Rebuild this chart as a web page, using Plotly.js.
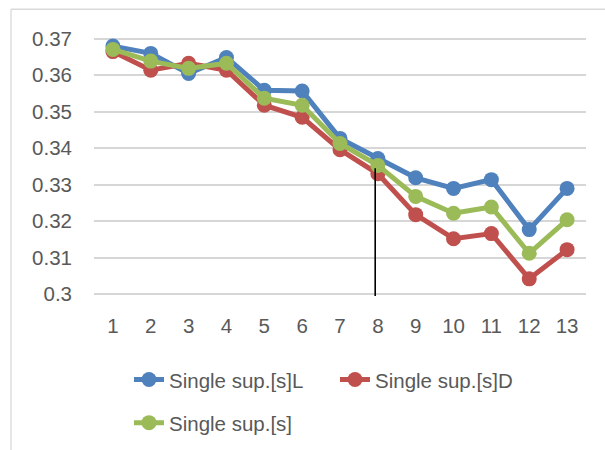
<!DOCTYPE html>
<html>
<head>
<meta charset="utf-8">
<script src="https://cdn.plot.ly/plotly-3.0.1.min.js"></script>
<style>
  html, body { margin: 0; padding: 0; background: #ffffff; }
  #chart { width: 605px; height: 450px; }
</style>
</head>
<body>
<div id="chart"></div>
<script>
// ---- data ----
const categories = [1, 2, 3, 4, 5, 6, 7, 8, 9, 10, 11, 12, 13];
const seriesNames = ["Single sup.[s]L", "Single sup.[s]D", "Single sup.[s]"];
const singleSupL = [0.3680, 0.3660, 0.3605, 0.3649, 0.3559, 0.3557, 0.3427, 0.3372, 0.3319, 0.3290, 0.3314, 0.3177, 0.3290];
const singleSupD = [0.3665, 0.3614, 0.3633, 0.3614, 0.3518, 0.3485, 0.3396, 0.3330, 0.3218, 0.3152, 0.3166, 0.3042, 0.3122];
const singleSup  = [0.3671, 0.3639, 0.3619, 0.3633, 0.3537, 0.3518, 0.3413, 0.3353, 0.3268, 0.3222, 0.3239, 0.3112, 0.3204];
const yTickVals = [0.30, 0.31, 0.32, 0.33, 0.34, 0.35, 0.36, 0.37];
const yTickText = ["0.3", "0.31", "0.32", "0.33", "0.34", "0.35", "0.36", "0.37"];
const markerLineX = 7.93;
const markerLineY = [0.2982, 0.3345];

// ---- style ----
const colors = ["#4F81BD", "#C0504D", "#9BBB59"];
const fontFamily = "Liberation Sans, Arial, sans-serif";
const textColor = "#595959";

function mkTrace(y, i, legendId) {
  return {
    x: categories, y: y, name: seriesNames[i], type: "scatter", mode: "lines+markers",
    line: { color: colors[i], width: 5 },
    marker: { color: colors[i], size: 15 },
    cliponaxis: false,
    legend: legendId
  };
}

const data = [
  mkTrace(singleSupL, 0, "legend"),
  mkTrace(singleSupD, 1, "legend"),
  mkTrace(singleSup, 2, "legend2")
];

// y range padded slightly so the 0.30 and 0.37 gridlines are drawn
const yMin = 0.30, yMax = 0.37, yPad = 0.0005;
const grid37 = 39, grid30 = 293.7;
const pxPerUnit = (grid30 - grid37) / (yMax - yMin);
const plotL = 94, plotR = 586;
const plotT = grid37 - yPad * pxPerUnit, plotB = grid30 + yPad * pxPerUnit;
const pw = plotR - plotL, ph = plotB - plotT;
const px = v => (v - plotL) / pw;
const py = v => (plotB - v) / ph;

const layout = {
  width: 605, height: 450,
  margin: { l: plotL, r: 605 - plotR, t: plotT, b: 450 - plotB, pad: 0, autoexpand: false },
  paper_bgcolor: "#ffffff", plot_bgcolor: "#ffffff",
  font: { family: fontFamily, size: 20.5, color: textColor },
  showlegend: true,
  xaxis: {
    range: [0.5, 13.5], tickmode: "array", tickvals: categories, ticktext: categories.map(String),
    showgrid: false, zeroline: false, showline: false, ticks: "",
    ticklabelstandoff: 15,
    tickfont: { family: fontFamily, size: 20.5, color: textColor }, fixedrange: true
  },
  yaxis: {
    range: [yMin - yPad, yMax + yPad], tickmode: "array", tickvals: yTickVals, ticktext: yTickText,
    showgrid: true, gridcolor: "#D6D6D6", gridwidth: 2, zeroline: false, showline: false,
    ticklabelstandoff: 21,
    tickfont: { family: fontFamily, size: 20.5, color: textColor }, fixedrange: true
  },
  legend: {
    orientation: "h", x: px(129), xanchor: "left", y: py(379), yanchor: "middle",
    entrywidth: 161, entrywidthmode: "pixels",
    font: { family: fontFamily, size: 20.5, color: textColor }, bgcolor: "rgba(0,0,0,0)"
  },
  legend2: {
    orientation: "h", x: px(129), xanchor: "left", y: py(422), yanchor: "middle",
    font: { family: fontFamily, size: 20.5, color: textColor }, bgcolor: "rgba(0,0,0,0)"
  },
  shapes: [
    { type: "line", xref: "x", yref: "y", x0: markerLineX, x1: markerLineX, y0: markerLineY[0], y1: markerLineY[1],
      line: { color: "#000000", width: 1.6 }, layer: "above" },
    { type: "line", xref: "paper", yref: "paper", x0: px(11), x1: px(605), y0: py(9.5), y1: py(9.5),
      line: { color: "#D9D9D9", width: 1.3 }, layer: "below" },
    { type: "line", xref: "paper", yref: "paper", x0: px(11), x1: px(11), y0: py(9.5), y1: py(450),
      line: { color: "#D9D9D9", width: 1.3 }, layer: "below" }
  ]
};

Plotly.newPlot("chart", data, layout, { displayModeBar: false, staticPlot: true });
</script>
</body>
</html>
